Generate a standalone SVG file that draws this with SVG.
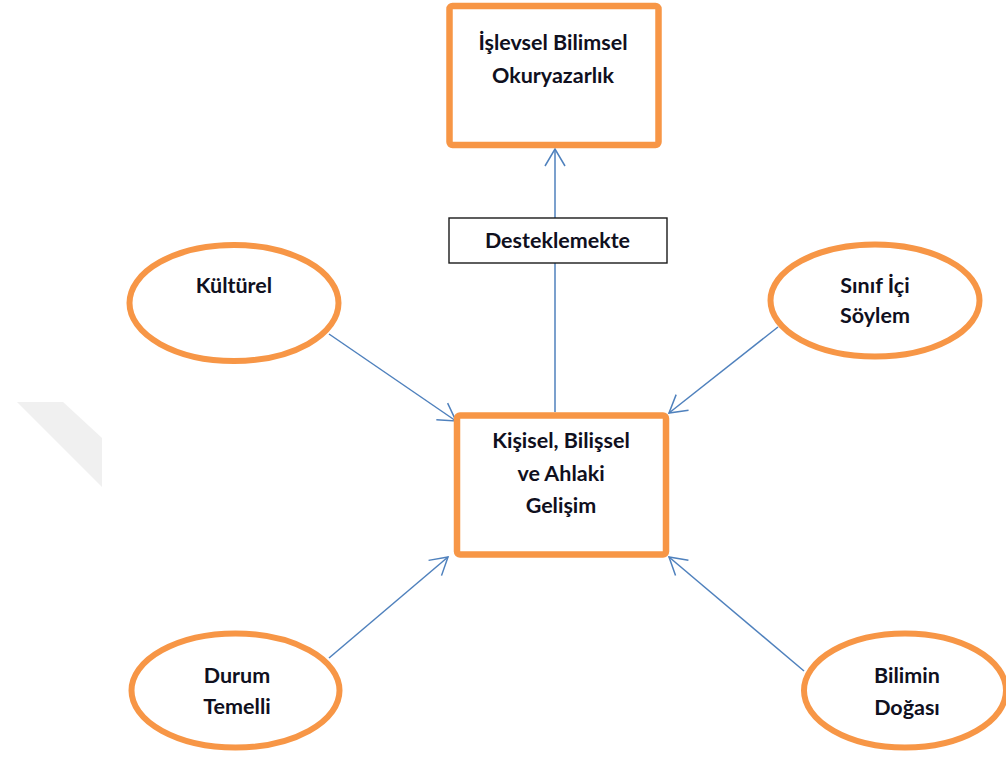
<svg xmlns="http://www.w3.org/2000/svg" width="1006" height="772" viewBox="0 0 1006 772">
<style>
.box{fill:#fff;stroke:#F79646;stroke-width:6.5;stroke-linejoin:round}
.ell{fill:#fff;stroke:#F79646;stroke-width:6}
.lbl{fill:#fff;stroke:#1a1a1a;stroke-width:1.4}
.t{font-family:Lato,"Open Sans",sans-serif;font-weight:bold;font-size:21.5px;fill:#10101e;text-anchor:middle}
.c{fill:none;stroke:#4F81BD;stroke-width:1.5}
</style>
<defs>
<marker id="arr" markerUnits="userSpaceOnUse" viewBox="-20 -12 22 24" refX="0" refY="0" markerWidth="22" markerHeight="24" orient="auto">
<path d="M-17,-10 L0,0 L-17,10" fill="none" stroke="#4F81BD" stroke-width="1.5"/>
</marker>
</defs>
<rect width="1006" height="772" fill="#fff"/>
<polygon points="17,402 63,402 102,438 102,487" fill="#f0f0f0"/>
<g id="connectors">
<line class="c" x1="555" y1="412" x2="555" y2="149" marker-end="url(#arr)"/>
<line class="c" x1="329" y1="334" x2="456" y2="421" marker-end="url(#arr)"/>
<line class="c" x1="778" y1="327" x2="669" y2="413" marker-end="url(#arr)"/>
<line class="c" x1="329" y1="658" x2="448" y2="557" marker-end="url(#arr)"/>
<line class="c" x1="804" y1="671" x2="669" y2="557" marker-end="url(#arr)"/>
</g>
<g id="n-islevsel">
<rect class="box" x="449.5" y="6" width="209" height="139" rx="3"/>
<text class="t" x="553" y="50">İşlevsel Bilimsel</text>
<text class="t" x="553" y="83">Okuryazarlık</text>
</g>
<g id="n-destek">
<rect class="lbl" x="449" y="218" width="218" height="45"/>
<text class="t" x="557.5" y="248">Desteklemekte</text>
</g>
<g id="n-kisisel">
<rect class="box" x="457" y="415.5" width="209" height="139" rx="3"/>
<text class="t" x="561" y="448">Kişisel, Bilişsel</text>
<text class="t" x="561" y="481">ve Ahlaki</text>
<text class="t" x="561" y="513">Gelişim</text>
</g>
<g id="n-kulturel">
<ellipse class="ell" cx="234" cy="303" rx="104.5" ry="58"/>
<text class="t" x="234" y="293">Kültürel</text>
</g>
<g id="n-sinif">
<ellipse class="ell" cx="875" cy="300.5" rx="104.5" ry="56"/>
<text class="t" x="875" y="293">Sınıf İçi</text>
<text class="t" x="875" y="323">Söylem</text>
</g>
<g id="n-durum">
<ellipse class="ell" cx="235.5" cy="690.5" rx="104" ry="57"/>
<text class="t" x="237" y="683">Durum</text>
<text class="t" x="237" y="714">Temelli</text>
</g>
<g id="n-bilimin">
<ellipse class="ell" cx="905" cy="690.5" rx="101" ry="57"/>
<text class="t" x="907" y="683">Bilimin</text>
<text class="t" x="907" y="715">Doğası</text>
</g>
</svg>
